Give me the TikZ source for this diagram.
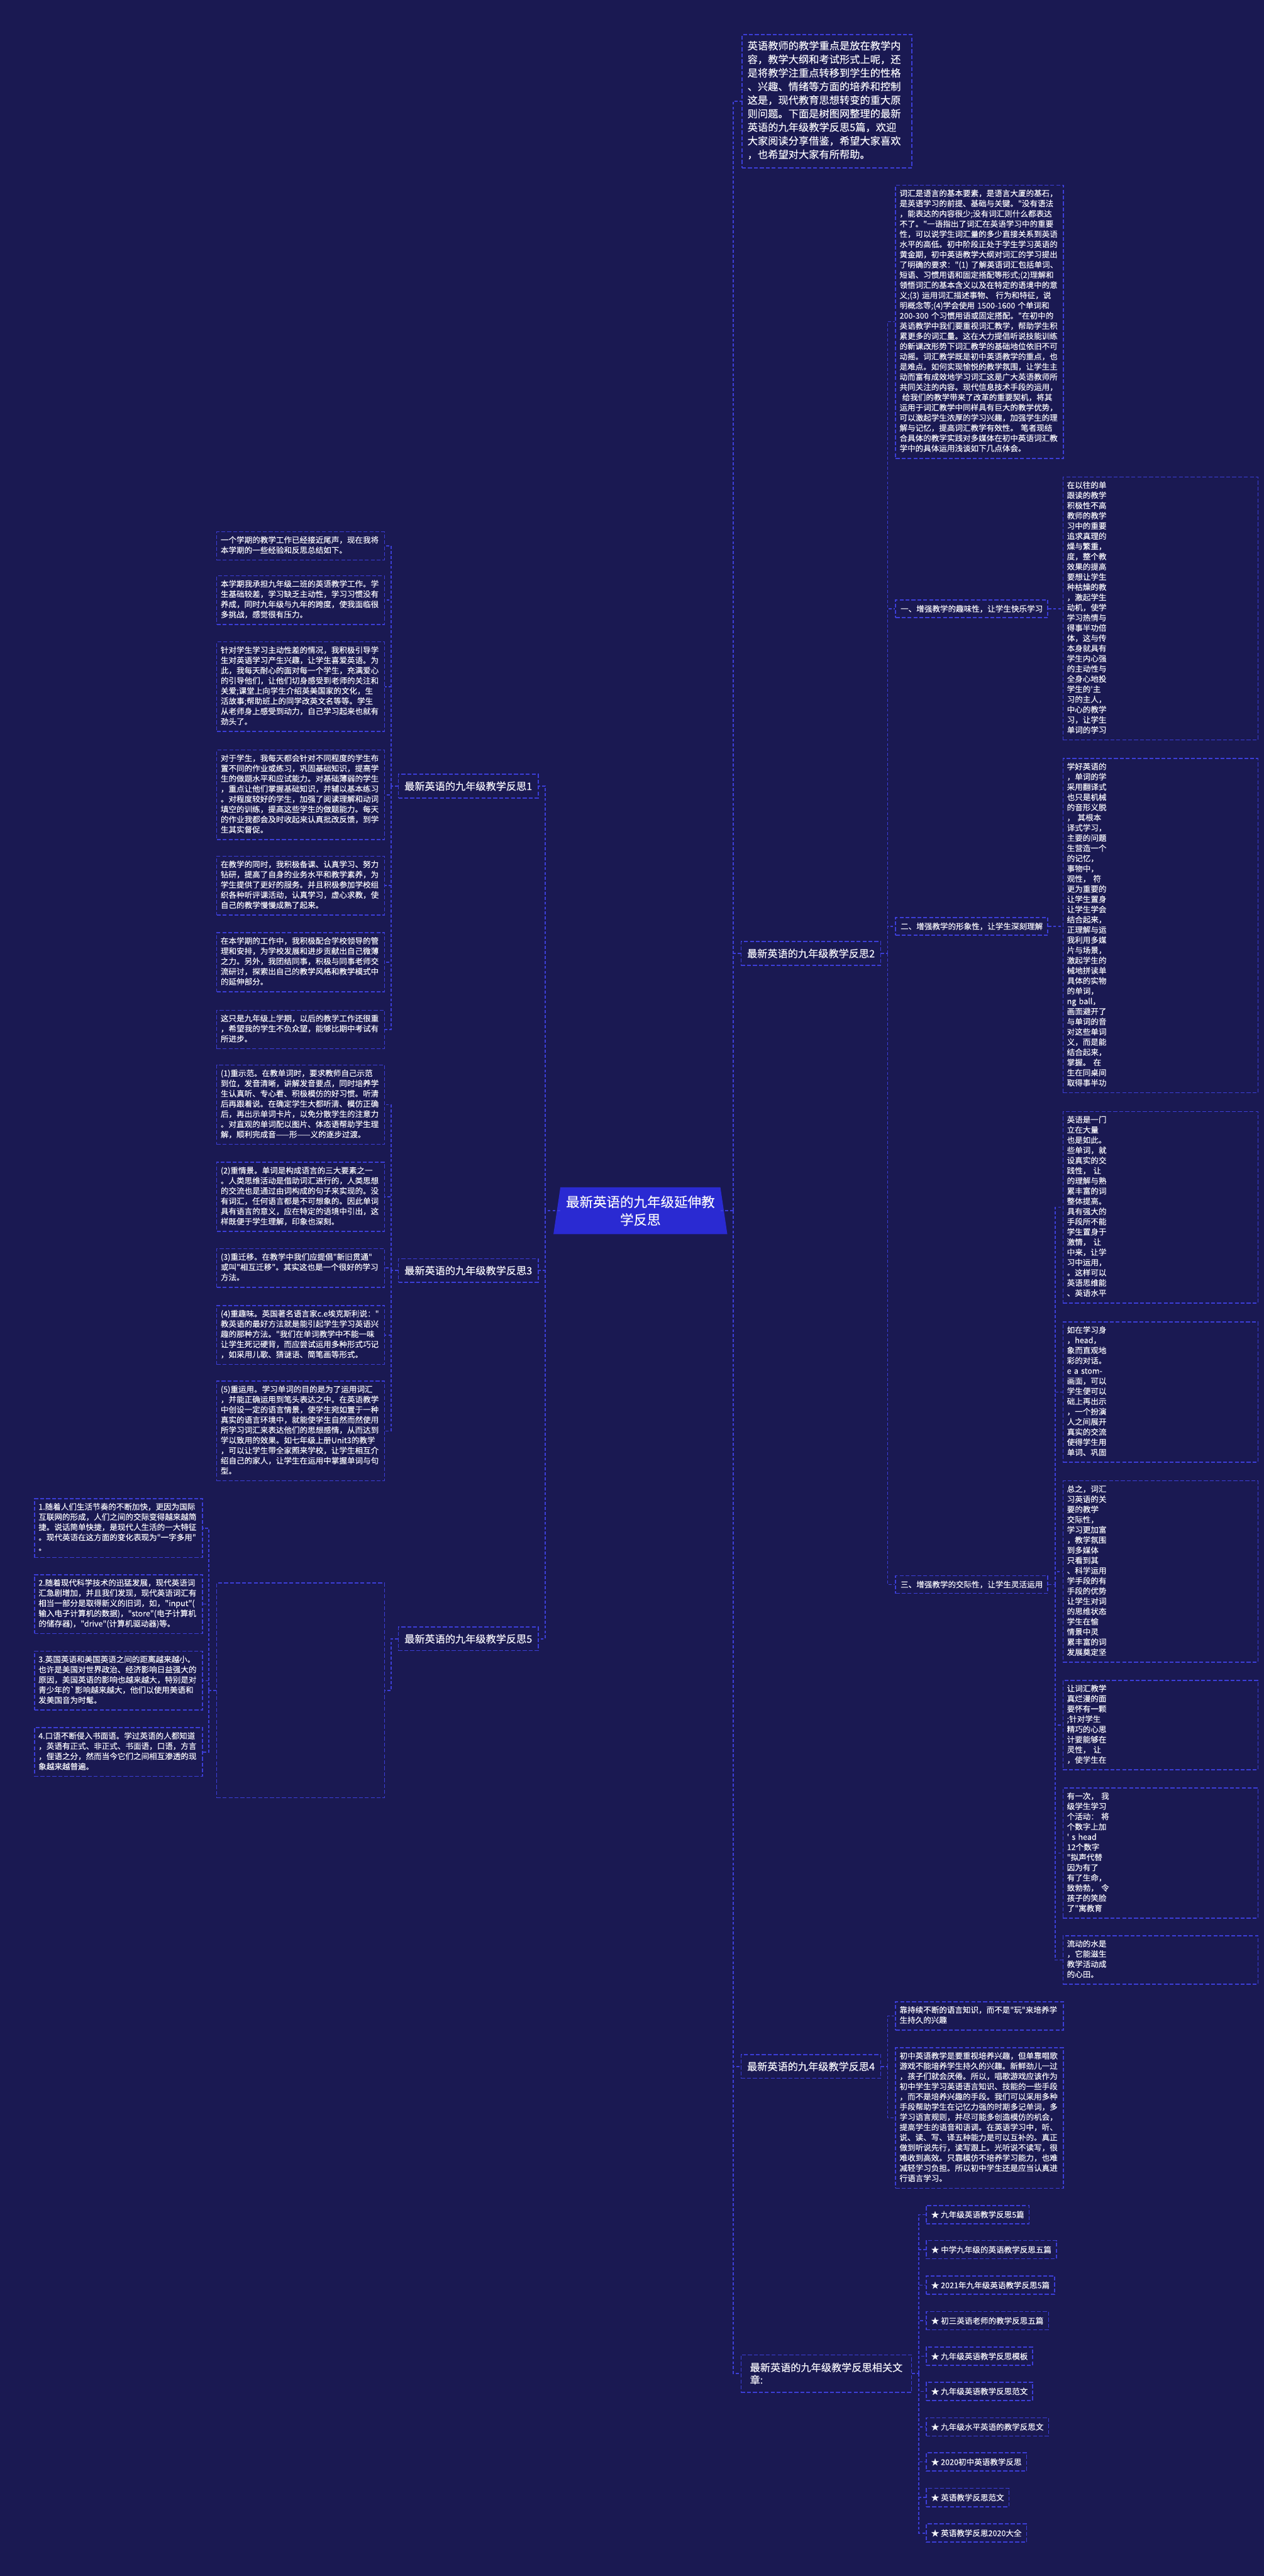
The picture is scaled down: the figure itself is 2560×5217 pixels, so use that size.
\documentclass[tikz,border=0pt]{standalone}
\usepackage{fontspec}
\setmainfont{Noto Sans CJK SC}[Ligatures=TeXOff,FakeBold=0.3]
\usetikzlibrary{calc}
\definecolor{bg}{RGB}{26,25,82}
\definecolor{ln}{RGB}{60,62,215}
\definecolor{ctr}{RGB}{42,42,210}
\definecolor{tx}{RGB}{245,245,250}
\pgfdeclarelayer{bgl}
\pgfsetlayers{bgl,main}
\begin{document}
\begin{tikzpicture}[x=0.5pt,y=-0.5pt,
 dl/.style={draw=ln,line width=1pt,dash pattern=on 4pt off 2pt},
 conn/.style={draw=ln,line width=1pt,dash pattern=on 3pt off 2pt},
 blk/.style={dl,text=tx,anchor=north west,align=left,inner xsep=4pt,inner ysep=4pt,
   font=\fontsize{8}{10.33}\selectfont,text width=162pt,
   execute at begin node=\strut,execute at end node=\strut},
 wblk/.style={blk,text width=189.5pt},
 intro/.style={blk,font=\fontsize{10.35}{13.75}\selectfont,text width=161pt,inner xsep=5.5pt,inner ysep=5.6pt},
 lab/.style={dl,text=tx,font=\fontsize{10.3}{12.5}\selectfont,minimum width=141.5pt,minimum height=24pt},
 sub/.style={dl,text=tx,font=\fontsize{8}{10}\selectfont,anchor=west,minimum height=18pt,inner xsep=5pt},
 itm/.style={dl,text=tx,font=\fontsize{8}{10}\selectfont,anchor=west,minimum height=18.5pt,inner xsep=5pt},
]
\useasboundingbox (0,0) rectangle (2560,5217);
\begin{pgfonlayer}{bgl}
\fill[bg] (0,0) rectangle (2560,5217);
\end{pgfonlayer}

% centre
\node[text=tx,font=\fontsize{13.7}{18}\selectfont,align=center,text width=155pt,minimum height=47pt] (ctr) at (1297,2452) {最新英语的九年级延伸教\\学反思};
\begin{pgfonlayer}{bgl}
\fill[ctr] (ctr.north west) -- (ctr.north east) -- ($(ctr.south east)+(14,0)$) -- ($(ctr.south west)+(-14,0)$) -- cycle;
\end{pgfonlayer}

% intro
\node[intro] (intro) at (1502,69) {英语教师的教学重点是放在教学内\\容，教学大纲和考试形式上呢，还\\是将教学注重点转移到学生的性格\\、兴趣、情绪等方面的培养和控制\\这是，现代教育思想转变的重大原\\则问题。下面是树图网整理的最新\\英语的九年级教学反思5篇，欢迎\\大家阅读分享借鉴，希望大家喜欢\\，也希望对大家有所帮助。};

% level-1 labels
\node[lab] (l1) at (948.5,1592) {最新英语的九年级教学反思1};
\node[lab] (l3) at (948.5,2573) {最新英语的九年级教学反思3};
\node[lab] (l5) at (948.5,3319) {最新英语的九年级教学反思5};
\node[lab] (l2) at (1642.5,1931) {最新英语的九年级教学反思2};
\node[lab] (l4) at (1642.5,4185) {最新英语的九年级教学反思4};
\node[lab,align=left,minimum width=172.5pt,minimum height=38pt] (rel) at (1673.5,4807) {最新英语的九年级教学反思相关文\\章:};

% reflection 1
\node[blk] (a1) at (438,1076) {一个学期的教学工作已经接近尾声，现在我将\\本学期的一些经验和反思总结如下。};
\node[blk] (a2) at (438,1165) {本学期我承担九年级二班的英语教学工作。学\\生基础较差，学习缺乏主动性，学习习惯没有\\养成，同时九年级与九年的跨度，使我面临很\\多挑战，感觉很有压力。};
\node[blk] (a3) at (438,1299) {针对学生学习主动性差的情况，我积极引导学\\生对英语学习产生兴趣，让学生喜爱英语。为\\此，我每天耐心的面对每一个学生，充满爱心\\的引导他们，让他们切身感受到老师的关注和\\关爱;课堂上向学生介绍英美国家的文化，生\\活故事;帮助班上的同学改英文名等等。学生\\从老师身上感受到动力，自己学习起来也就有\\劲头了。};
\node[blk] (a4) at (438,1518) {对于学生，我每天都会针对不同程度的学生布\\置不同的作业或练习，巩固基础知识，提高学\\生的做题水平和应试能力。对基础薄弱的学生\\，重点让他们掌握基础知识，并辅以基本练习\\。对程度较好的学生，加强了阅读理解和动词\\填空的训练，提高这些学生的做题能力。每天\\的作业我都会及时收起来认真批改反馈，到学\\生其实督促。};
\node[blk] (a5) at (438,1733) {在教学的同时，我积极备课、认真学习、努力\\钻研，提高了自身的业务水平和教学素养，为\\学生提供了更好的服务。并且积极参加学校组\\织各种听评课活动，认真学习，虚心求教，使\\自己的教学慢慢成熟了起来。};
\node[blk] (a6) at (438,1888) {在本学期的工作中，我积极配合学校领导的管\\理和安排，为学校发展和进步贡献出自己微薄\\之力。另外，我团结同事，积极与同事老师交\\流研讨，探索出自己的教学风格和教学模式中\\的延伸部分。};
\node[blk] (a7) at (438,2045) {这只是九年级上学期，以后的教学工作还很重\\，希望我的学生不负众望，能够比期中考试有\\所进步。};

% reflection 3
\node[blk] (c1) at (438,2156) {(1)重示范。在教单词时，要求教师自己示范\\到位，发音清晰，讲解发音要点，同时培养学\\生认真听、专心看、积极模仿的好习惯。听清\\后再跟着说。在确定学生大都听清、模仿正确\\后，再出示单词卡片，以免分散学生的注意力\\。对直观的单词配以图片、体态语帮助学生理\\解，顺利完成音——形——义的逐步过渡。};
\node[blk] (c2) at (438,2353) {(2)重情景。单词是构成语言的三大要素之一\\。人类思维活动是借助词汇进行的，人类思想\\的交流也是通过由词构成的句子来实现的。没\\有词汇，任何语言都是不可想象的。因此单词\\具有语言的意义，应在特定的语境中引出，这\\样既便于学生理解，印象也深刻。};
\node[blk] (c3) at (438,2528) {(3)重迁移。在教学中我们应提倡"新旧贯通"\\或叫"相互迁移"。其实这也是一个很好的学习\\方法。};
\node[blk] (c4) at (438,2643) {(4)重趣味。英国著名语言家c.e埃克斯利说："\\教英语的最好方法就是能引起学生学习英语兴\\趣的那种方法。"我们在单词教学中不能一味\\让学生死记硬背，而应尝试运用多种形式巧记\\，如采用儿歌、猜谜语、简笔画等形式。};
\node[blk] (c5) at (438,2796) {(5)重运用。学习单词的目的是为了运用词汇\\，并能正确运用到笔头表达之中。在英语教学\\中创设一定的语言情景，使学生宛如置于一种\\真实的语言环境中，就能使学生自然而然使用\\所学习词汇来表达他们的思想感情，从而达到\\学以致用的效果。如七年级上册Unit3的教学\\，可以让学生带全家照来学校，让学生相互介\\绍自己的家人，让学生在运用中掌握单词与句\\型。};

% reflection 5
\node[blk,minimum height=217.5pt] (f) at (438,3205) {};
\node[blk] (d1) at (69,3034) {1.随着人们生活节奏的不断加快，更因为国际\\互联网的形成，人们之间的交际变得越来越简\\捷。说话简单快捷，是现代人生活的一大特征\\。现代英语在这方面的变化表现为"一字多用"\\。};
\node[blk] (d2) at (69,3188) {2.随着现代科学技术的迅猛发展，现代英语词\\汇急剧增加，并且我们发现，现代英语词汇有\\相当一部分是取得新义的旧词，如，"input"(\\输入电子计算机的数据)，"store"(电子计算机\\的储存器)，"drive"(计算机驱动器)等。};
\node[blk] (d3) at (69,3343) {3.英国英语和美国英语之间的距离越来越小。\\也许是美国对世界政治、经济影响日益强大的\\原因，美国英语的影响也越来越大，特别是对\\青少年的`影响越来越大，他们以使用美语和\\发美国音为时髦。};
\node[blk] (d4) at (69,3498) {4.口语不断侵入书面语。学过英语的人都知道\\，英语有正式、非正式、书面语，口语，方言\\，俚语之分，然而当今它们之间相互渗透的现\\象越来越普遍。};

% reflection 2
\node[blk] (b0) at (1813,374) {词汇是语言的基本要素，是语言大厦的基石，\\是英语学习的前提、基础与关键。"没有语法\\，能表达的内容很少;没有词汇则什么都表达\\不了。"一语指出了词汇在英语学习中的重要\\性，可以说学生词汇量的多少直接关系到英语\\水平的高低。初中阶段正处于学生学习英语的\\黄金期，初中英语教学大纲对词汇的学习提出\\了明确的要求："(1)~了解英语词汇包括单词、\\短语、习惯用语和固定搭配等形式;(2)理解和\\领悟词汇的基本含义以及在特定的语境中的意\\义;(3)~运用词汇描述事物、~行为和特征，说\\明概念等;(4)学会使用~1500-1600~个单词和\\200-300~个习惯用语或固定搭配。"在初中的\\英语教学中我们要重视词汇教学，帮助学生积\\累更多的词汇量。这在大力提倡听说技能训练\\的新课改形势下词汇教学的基础地位依旧不可\\动摇。词汇教学既是初中英语教学的重点，也\\是难点。如何实现愉悦的教学氛围，让学生主\\动而富有成效地学习词汇这是广大英语教师所\\共同关注的内容。现代信息技术手段的运用，\\~给我们的教学带来了改革的重要契机，将其\\运用于词汇教学中同样具有巨大的教学优势，\\可以激起学生浓厚的学习兴趣，加强学生的理\\解与记忆，提高词汇教学有效性。~笔者现结\\合具体的教学实践对多媒体在初中英语词汇教\\学中的具体运用浅谈如下几点体会。};
\node[sub] (s1) at (1813,1233) {一、增强教学的趣味性，让学生快乐学习};
\node[sub] (s2) at (1813,1876) {二、增强教学的形象性，让学生深刻理解};
\node[sub] (s3) at (1813,3209) {三、增强教学的交际性，让学生灵活运用};
\node[wblk] (r1) at (2152,965) {在以往的单\\跟读的教学\\积极性不高\\教师的教学\\习中的重要\\追求真理的\\燥与繁重，\\度，整个教\\效果的提高\\要想让学生\\种枯燥的教\\，激起学生\\动机，使学\\学习热情与\\得事半功倍\\体，这与传\\本身就具有\\学生内心强\\的主动性与\\全身心地投\\学生的'主\\习的主人，\\中心的教学\\习，让学生\\单词的学习};
\node[wblk] (r2) at (2152,1535) {学好英语的\\，单词的学\\采用翻译式\\也只是机械\\的音形义脱\\，~其根本\\译式学习，\\主要的问题\\生营造一个\\的记忆，\\事物中，\\观性，~符\\更为重要的\\让学生置身\\让学生学会\\结合起来，\\正理解与运\\我利用多媒\\片与场景，\\激起学生的\\械地拼读单\\具体的实物\\的单词，\\ng~ball，\\画面避开了\\与单词的音\\对这些单词\\义，而是能\\结合起来，\\掌握。~在\\生在同桌间\\取得事半功};
\node[wblk] (r3) at (2152,2250) {英语是一门\\立在大量\\也是如此。\\些单词，就\\设真实的交\\践性，~让\\的理解与熟\\累丰富的词\\整体提高。\\具有强大的\\手段所不能\\学生置身于\\激情，~让\\中来，让学\\习中运用，\\。这样可以\\英语思维能\\、英语水平};
\node[wblk] (r4) at (2152,2676) {如在学习身\\，head，\\象而直观地\\彩的对话。\\e~a~stom-\\画面，可以\\学生便可以\\础上再出示\\，一个扮演\\人之间展开\\真实的交流\\使得学生用\\单词、巩固};
\node[wblk] (r5) at (2152,2998) {总之，词汇\\习英语的关\\要的教学\\交际性，\\学习更加富\\，教学氛围\\到多媒体\\只看到其\\、科学运用\\学手段的有\\手段的优势\\让学生对词\\的思维状态\\学生在愉\\情景中灵\\累丰富的词\\发展奠定坚};
\node[wblk] (r6) at (2152,3402) {让词汇教学\\真烂漫的面\\要怀有一颗\\;针对学生\\精巧的心思\\计要能够在\\灵性，~让\\，使学生在};
\node[wblk] (r7) at (2152,3620) {有一次，~我\\级学生学习\\个活动：~将\\个数字上加\\'~s~head\\12个数字\\"拟声代替\\因为有了\\有了生命，\\致勃勃，~令\\孩子的笑脸\\了"寓教育};
\node[wblk] (r8) at (2152,3919) {流动的水是\\，它能滋生\\教学活动成\\的心田。};

% reflection 4
\node[blk] (e1) at (1813,4053) {靠持续不断的语言知识，而不是"玩"来培养学\\生持久的兴趣};
\node[blk] (e2) at (1813,4146) {初中英语教学是要重视培养兴趣，但单靠唱歌\\游戏不能培养学生持久的兴趣。新鲜劲儿一过\\，孩子们就会厌倦。所以，唱歌游戏应该作为\\初中学生学习英语语言知识、技能的一些手段\\，而不是培养兴趣的手段。我们可以采用多种\\手段帮助学生在记忆力强的时期多记单词，多\\学习语言规则，并尽可能多创造模仿的机会，\\提高学生的语音和语调。在英语学习中，听、\\说、读、写、译五种能力是可以互补的。真正\\做到听说先行，读写跟上。光听说不读写，很\\难收到高效。只靠模仿不培养学习能力，也难\\减轻学习负担。所以初中学生还是应当认真进\\行语言学习。};

% related
\node[itm] (i1) at (1875,4485) {★ 九年级英语教学反思5篇};
\node[itm] (i2) at (1875,4556) {★ 中学九年级的英语教学反思五篇};
\node[itm] (i3) at (1875,4628) {★ 2021年九年级英语教学反思5篇};
\node[itm] (i4) at (1875,4700) {★ 初三英语老师的教学反思五篇};
\node[itm] (i5) at (1875,4772) {★ 九年级英语教学反思模板};
\node[itm] (i6) at (1875,4843) {★ 九年级英语教学反思范文};
\node[itm] (i7) at (1875,4915) {★ 九年级水平英语的教学反思文};
\node[itm] (i8) at (1875,4986) {★ 2020初中英语教学反思};
\node[itm] (i9) at (1875,5058) {★ 英语教学反思范文};
\node[itm] (i10) at (1875,5130) {★ 英语教学反思2020大全};

% connectors
\coordinate (lt) at (1104,2452);
\coordinate (rt) at (1485,2452);
\draw[conn] (ctr.west) -- (lt);
\draw[conn] (ctr.east) -- (rt);
\foreach \n in {l1,l3,l5} \draw[conn] (lt) |- (\n.east);
\foreach \n in {intro,l2,l4,rel} \draw[conn] (rt) |- (\n.west);

\coordinate (t1) at (792,1592);
\draw[conn] (l1.west) -- (t1);
\foreach \n in {a1,a2,a3,a4,a5,a6,a7} \draw[conn] (t1) |- (\n.east);
\coordinate (t3) at (792,2573);
\draw[conn] (l3.west) -- (t3);
\foreach \n in {c1,c2,c3,c4,c5} \draw[conn] (t3) |- (\n.east);
\coordinate (t5) at (792,3319);
\draw[conn] (l5.west) -- (t5) |- (f.east);
\coordinate (tf) at (423,3422);
\draw[conn] (f.west) -- (f.west -| tf);
\foreach \n in {d1,d2,d3,d4} \draw[conn] (f.west -| tf) |- (\n.east);

\coordinate (t2) at (1798,1931);
\draw[conn] (l2.east) -- (t2);
\foreach \n in {b0,s1,s2,s3} \draw[conn] (t2) |- (\n.west);
\draw[conn] (s1.east) -- (s1.east -| r1.west);
\draw[conn] (s2.east) -- (s2.east -| r2.west);
\coordinate (ts3) at (2137,3209);
\draw[conn] (s3.east) -- (ts3);
\foreach \n in {r3,r4,r5,r6,r7,r8} \draw[conn] (ts3) |- (\n.west);

\coordinate (t4) at (1798,4185);
\draw[conn] (l4.east) -- (t4);
\foreach \n in {e1,e2} \draw[conn] (t4) |- (\n.west);

\coordinate (tr) at (1861,4807);
\draw[conn] (rel.east) -- (tr);
\foreach \n in {i1,i2,i3,i4,i5,i6,i7,i8,i9,i10} \draw[conn] (tr) |- (\n.west);
\end{tikzpicture}
\end{document}
